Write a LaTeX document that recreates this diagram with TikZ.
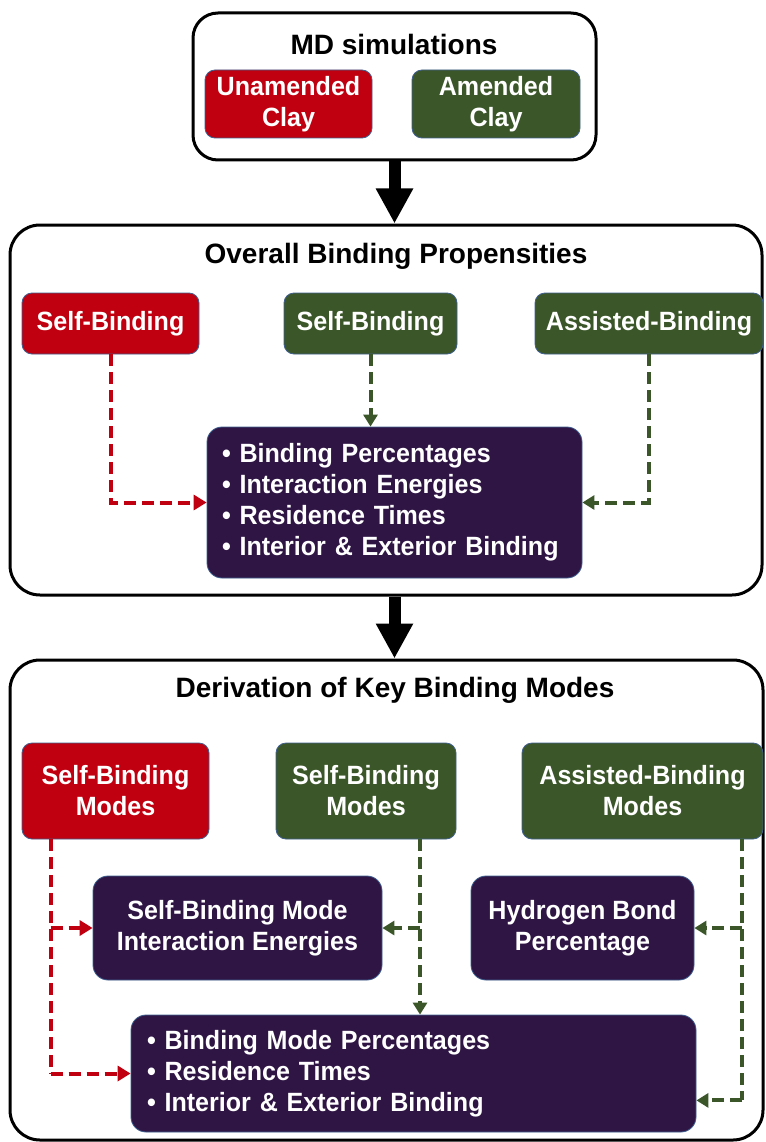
\documentclass[tikz,border=0pt]{standalone}
\usepackage{fontspec}
\setmainfont{Liberation Sans}
\newfontfamily\boxfont[FakeStretch=0.95]{Liberation Sans}
\usetikzlibrary{arrows.meta,calc}
\definecolor{cred}{HTML}{C00010}
\definecolor{cgreen}{HTML}{3B5628}
\definecolor{cpurple}{HTML}{2F1544}
\definecolor{cedge}{HTML}{3F5F8F}
\tikzset{
  bigbox/.style={draw=black, line width=3pt, rounded corners=30pt, fill=white},
  titletext/.style={font=\fontsize{28}{33}\selectfont\bfseries, text=black},
  cbox/.style={draw=cedge, line width=0.8pt, rounded corners=10pt, text=white,
    font=\boxfont\fontsize{26.4}{31}\selectfont\bfseries, align=center, inner sep=0pt},
  redbox/.style={cbox, fill=cred},
  greenbox/.style={cbox, fill=cgreen},
  purplebox/.style={cbox, fill=cpurple, rounded corners=15pt},
  bigarrow/.style={line width=12pt, -{Triangle[width=35pt,length=35pt]}},
  rline/.style={draw=cred, line width=4pt, dash pattern=on 12pt off 6pt},
  gline/.style={draw=cgreen, line width=4pt, dash pattern=on 12pt off 6pt},
  rdash/.style={rline, -{Triangle[width=15pt,length=13pt]}},
  gdash/.style={gline, -{Triangle[width=14pt,length=12pt]}},
}
\begin{document}
\begin{tikzpicture}[x=1pt,y=-1pt]
\useasboundingbox (0,0) rectangle (765,1142);
% ---------- top box ----------
\node[bigbox, rounded corners=25pt, minimum width=403pt, minimum height=147pt] (md) at (394.5,86.5) {};
\node[titletext] (mdt) at (394,44) {MD simulations};
\node[redbox, minimum width=167pt, minimum height=68pt] (una) at (288.5,104) {Unamended\\Clay};
\node[greenbox, minimum width=168pt, minimum height=68pt] (ame) at (496,104) {Amended\\Clay};
% ---------- box 2 ----------
\node[bigbox, minimum width=752pt, minimum height=370pt] (ob) at (386,410) {};
\node[titletext] (obt) at (396,256) {Overall Binding Propensities};
\node[redbox, minimum width=177pt, minimum height=61pt] (sb1) at (110.5,323.5) {Self-Binding};
\node[greenbox, minimum width=173pt, minimum height=61pt] (sb2) at (370.5,323.5) {Self-Binding};
\node[greenbox, minimum width=228pt, minimum height=61pt] (ab1) at (649,323.5) {Assisted-Binding};
\node[purplebox, minimum width=375pt, minimum height=151pt, text width=345pt, align=left] (p1) at (394.5,502.5)
  {\textbullet\ Binding Percentages\\\textbullet\ Interaction Energies\\\textbullet\ Residence Times\\\textbullet\ Interior \& Exterior Binding};
\draw[rdash] (sb1.south) |- (p1.west);
\draw[gdash] (sb2.south) -- (sb2.south |- p1.north);
\draw[gdash] (ab1.south) |- (p1.east);
% ---------- box 3 ----------
\node[bigbox, minimum width=753pt, minimum height=480pt] (dk) at (386.5,900) {};
\node[titletext] (dkt) at (395,690) {Derivation of Key Binding Modes};
\node[redbox, minimum width=187pt, minimum height=96pt] (sbm1) at (115.5,791) {Self-Binding\\Modes};
\node[greenbox, minimum width=180pt, minimum height=96pt] (sbm2) at (366,791) {Self-Binding\\Modes};
\node[greenbox, minimum width=241pt, minimum height=96pt] (abm) at (642.5,791) {Assisted-Binding\\Modes};
\node[purplebox, minimum width=289pt, minimum height=104pt] (p2) at (237.5,928) {Self-Binding Mode\\Interaction Energies};
\node[purplebox, minimum width=223pt, minimum height=104pt] (p3) at (582.5,928) {Hydrogen Bond\\Percentage};
\node[purplebox, minimum width=565pt, minimum height=117pt, text width=533pt, align=left] (p4) at (413.5,1073.5)
  {\textbullet\ Binding Mode Percentages\\\textbullet\ Residence Times\\\textbullet\ Interior \& Exterior Binding};
\coordinate (r0) at ($(sbm1.south west)+(29,0)$);
\coordinate (g0) at ($(sbm2.south)+(54,0)$);
\coordinate (a0) at ($(abm.south)+(99.5,0)$);
\coordinate (a1) at ($(p4.south east)+(0,-32)$);
\draw[rline] (r0) -- (r0 |- p4.west);
\draw[rdash] (r0 |- p4.west) -- (p4.west);
\draw[rdash] (r0 |- p2.west) -- (p2.west);
\draw[gdash] (g0) -- (g0 |- p4.north);
\draw[gdash] (g0 |- p2.east) -- (p2.east);
\draw[gline] (a0) -- (a0 |- a1);
\draw[gdash] (a0 |- a1) -- (a1);
\draw[gdash] (a0 |- p3.east) -- (p3.east);
% ---------- big arrows ----------
\draw[bigarrow] (md.south) -- (md.south |- ob.north);
\draw[bigarrow] (ob.south -| md.south) -- (md.south |- dk.north);
\end{tikzpicture}
\end{document}
